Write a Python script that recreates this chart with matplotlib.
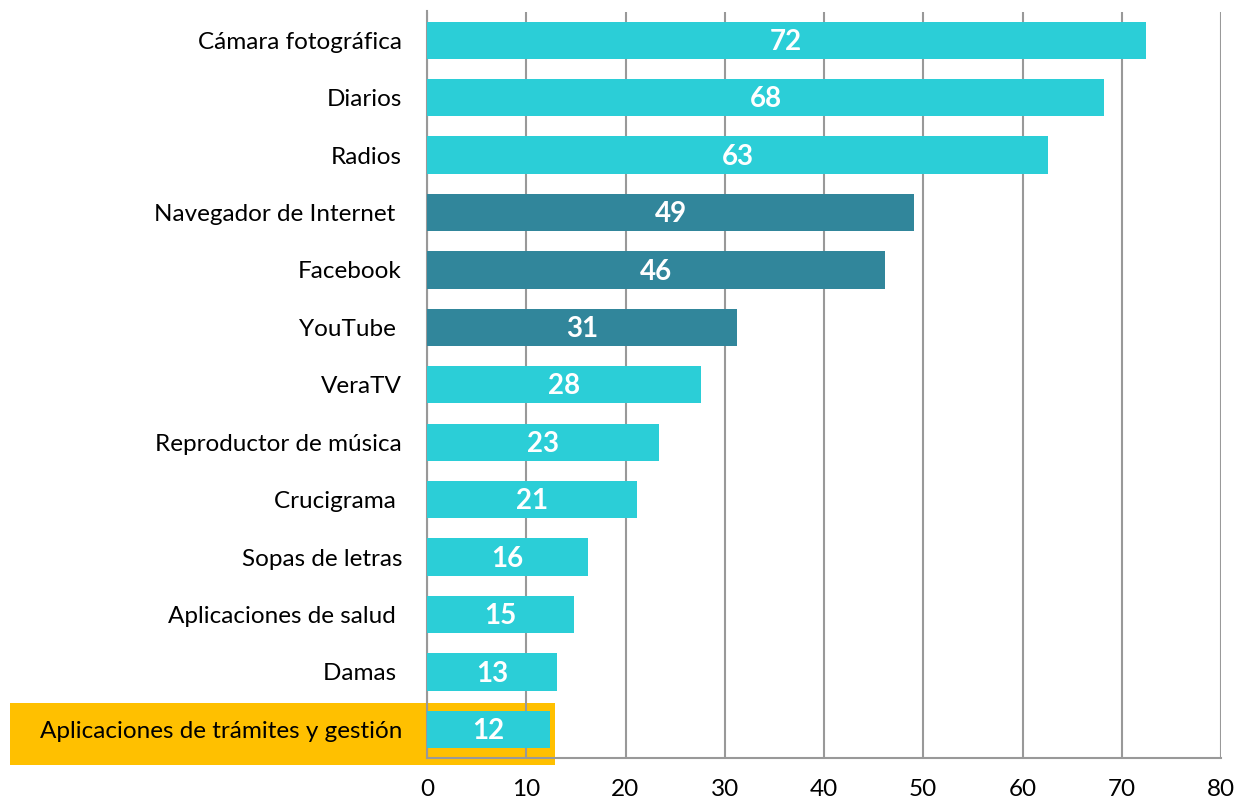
import matplotlib
matplotlib.use("Agg")
import matplotlib.pyplot as plt
from matplotlib.patches import Rectangle

categories = ["Cámara fotográfica", "Diarios", "Radios", "Navegador de Internet ",
              "Facebook", "YouTube ", "VeraTV", "Reproductor de música",
              "Crucigrama ", "Sopas de letras", "Aplicaciones de salud ", "Damas ",
              "Aplicaciones de trámites y gestión"]
bar_values = [72.4, 68.2, 62.6, 49.1, 46.1, 31.2, 27.6, 23.4, 21.2, 16.2, 14.8, 13.1, 12.4]
label_values = [72, 68, 63, 49, 46, 31, 28, 23, 21, 16, 15, 13, 12]
highlight_dark = [False, False, False, True, True, True, False, False, False, False, False, False, False]
x_ticks = [0, 10, 20, 30, 40, 50, 60, 70, 80]

LIGHT = "#2BCED7"
DARK = "#31869B"
GRID = "#999999"
FONT = "Lato"

fig = plt.figure(figsize=(12.39, 8.02), dpi=100)
ax = fig.add_axes([427/1239, 44/802, 794/1239, 746.5/802])
ax.set_facecolor("none")

ypos = list(range(len(categories)))
colors = [DARK if d else LIGHT for d in highlight_dark]
ax.barh(ypos, bar_values, height=0.65, color=colors, zorder=3)

for y, v, lab in zip(ypos, bar_values, label_values):
    ax.text(v / 2, y + 0.03, str(lab), ha="center", va="center", color="white",
            fontsize=20, fontweight="bold", family=FONT, zorder=4)

ax.set_ylim(len(categories) - 0.5, -0.5)
ax.set_xlim(0, 80)
ax.set_xticks(x_ticks)
ax.set_xticklabels([str(t) for t in x_ticks], fontsize=17.5, family=FONT)
ax.set_yticks(ypos)
ax.set_yticklabels(categories, fontsize=17.5, family=FONT)
ax.tick_params(axis="x", length=0, pad=15)
ax.tick_params(axis="y", length=0, pad=18)
ax.grid(axis="x", color=GRID, linewidth=1.5, zorder=0)
ax.set_axisbelow(True)
for s in ["top", "right"]:
    ax.spines[s].set_visible(False)
for s in ["left", "bottom"]:
    ax.spines[s].set_color(GRID)
    ax.spines[s].set_linewidth(1.5)

# highlight box behind the last category
fig.patches.append(Rectangle((10/1239, 37/802), 545/1239, 62/802,
                             transform=fig.transFigure, facecolor="#FFC000",
                             edgecolor="none", zorder=-1))

fig.savefig("out.png", dpi=100)
